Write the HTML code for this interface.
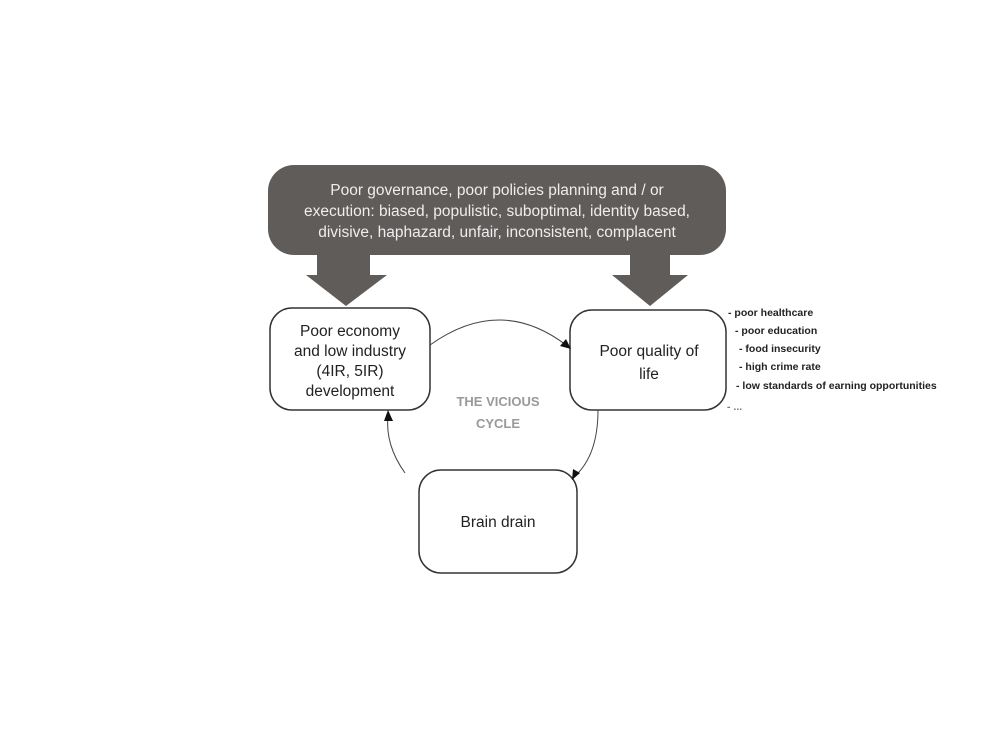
<!DOCTYPE html>
<html><head><style>
body{margin:0;background:#fff;width:1000px;height:750px;overflow:hidden;font-family:"Liberation Sans",sans-serif}
</style></head><body>
<svg width="1000" height="750" viewBox="0 0 1000 750" xmlns="http://www.w3.org/2000/svg">
<rect x="268" y="165" width="458" height="90" rx="26" fill="#5f5c5a"/>
<g fill="#eeeeee" font-size="15.5" text-anchor="middle">
<text x="497" y="195">Poor governance, poor policies planning and / or</text>
<text x="497" y="216">execution: biased, populistic, suboptimal, identity based,</text>
<text x="497" y="237">divisive, haphazard, unfair, inconsistent, complacent</text>
</g>
<polygon points="317,254 370,254 370,275 387,275 346,306 306,275 317,275" fill="#5f5c5a"/>
<polygon points="630,254 670,254 670,275 688,275 650,306 612,275 630,275" fill="#5f5c5a"/>
<g fill="#fff" stroke="#333" stroke-width="1.5">
<rect x="270" y="308" width="160" height="102" rx="22"/>
<rect x="570" y="310" width="156" height="100" rx="22"/>
<rect x="419" y="470" width="158" height="103" rx="22"/>
</g>
<g font-size="15.5" fill="#222" text-anchor="middle">
<text x="350" y="336">Poor economy</text>
<text x="350" y="356">and low industry</text>
<text x="350" y="376">(4IR, 5IR)</text>
<text x="350" y="396">development</text>
<text x="649" y="356">Poor quality of</text>
<text x="649" y="379">life</text>
<text x="498" y="527">Brain drain</text>
</g>
<g font-size="13" fill="#999" font-weight="bold" text-anchor="middle">
<text x="498" y="406">THE VICIOUS</text>
<text x="498" y="428">CYCLE</text>
</g>
<g fill="none" stroke="#444" stroke-width="1">
<path d="M430,345 Q500,295 566,345"/>
<path d="M598,410 Q598,455 575,476"/>
<path d="M405,473 Q385,445 388,416"/>
</g>
<g fill="#111">
<polygon points="571,349 560,346 566,339"/>
<polygon points="572,480 573,469 580,473"/>
<polygon points="388,410 384,421 393,421"/>
</g>
<g font-size="10.5" font-weight="bold" fill="#222">
<text x="728" y="316">- poor healthcare</text>
<text x="735" y="334">- poor education</text>
<text x="739" y="352">- food insecurity</text>
<text x="739" y="370">- high crime rate</text>
<text x="736" y="389">- low standards of earning opportunities</text>
<text x="727" y="410" fill="#777">- ...</text>
</g>
</svg>
</body></html>
